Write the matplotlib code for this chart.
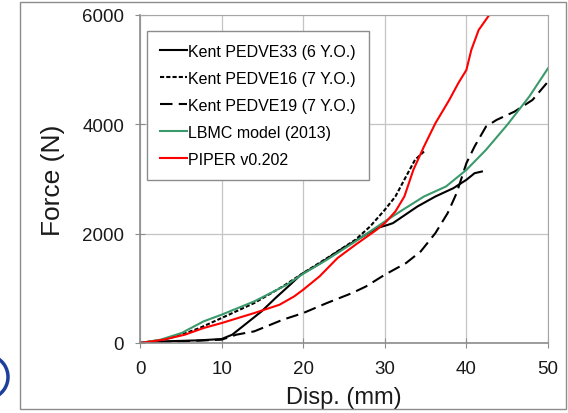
import matplotlib
matplotlib.use("Agg")
import matplotlib.pyplot as plt
from matplotlib.patches import Rectangle, Arc

plt.rcParams["font.family"] = ["Liberation Sans", "DejaVu Sans"]

# Kent PEDVE33 (6 Y.O.)
pedve33_x = [0, 2.9, 7.3, 10, 11.3, 13.1, 14.9, 16.6, 18.4, 19.7, 22, 24.5, 27.3, 29, 30.4, 31,
             32.2, 34, 36.2, 38.4, 40, 41, 41.9]
pedve33_y = [0, 30, 49, 73, 152, 365, 579, 822, 1066, 1249, 1450, 1700, 1949, 2101, 2162, 2193,
             2315, 2497, 2680, 2832, 2985, 3106, 3137]

# Kent PEDVE16 (7 Y.O.)
pedve16_x = [0, 2.9, 5.1, 7.3, 10, 14, 17.5, 20, 23, 26.4, 28.2, 30, 31.3, 32.6, 33.7, 34.8]
pedve16_y = [0, 61, 152, 274, 457, 731, 1035, 1279, 1560, 1888, 2132, 2436, 2680, 3045, 3350, 3502]

# Kent PEDVE19 (7 Y.O.)
pedve19_x = [0, 5.1, 10, 11.8, 14, 17.5, 20, 22.9, 26, 27.7, 30, 32.6, 34.4, 36.2, 37.7, 38.8,
             40, 41, 42.4, 43.7, 45.9, 48.1, 50]
pedve19_y = [0, 30, 61, 152, 213, 426, 548, 731, 914, 1035, 1249, 1462, 1675, 2010, 2375, 2741,
             3289, 3594, 3959, 4081, 4233, 4446, 4781]

# LBMC model (2013)
lbmc_x = [0, 2.5, 5.1, 7.8, 10, 14, 18, 20, 22.9, 26.4, 30, 32.2, 34.8, 37.5, 40, 42.4, 45,
          47.7, 50]
lbmc_y = [0, 60, 183, 396, 518, 761, 1066, 1267, 1523, 1858, 2223, 2436, 2680, 2863, 3167,
          3533, 3990, 4507, 5025]

# PIPER v0.202
piper_x = [0, 2.9, 5.5, 7.8, 10, 14, 17.1, 18.9, 20, 22, 24.2, 26.4, 29, 30, 31.3, 32.4, 33.5,
           34.8, 36.2, 37.9, 39, 40, 40.6, 41.5, 42.8, 43.3]
piper_y = [0, 61, 152, 274, 365, 548, 700, 853, 975, 1218, 1553, 1797, 2071, 2193, 2406, 2680,
           3167, 3594, 4020, 4446, 4751, 4995, 5360, 5725, 6000, 6150]

x_ticks = [0, 10, 20, 30, 40, 50]
y_ticks = [0, 2000, 4000, 6000]

fig = plt.figure(figsize=(5.68, 4.14), dpi=100)
ax = fig.add_axes([140 / 568, 1 - 344 / 414, 408 / 568, 328 / 414])

# slide frame and the stray blue arc on the left edge
fig.patches.append(Rectangle((20 / 568, 4 / 414), 546 / 568, 407 / 414, transform=fig.transFigure,
                             fill=False, edgecolor="#8c8c8c", linewidth=1.0))
fig.patches.append(Arc((-14 / 568, 1 - 378 / 414), 44 / 568, 44 / 414, theta1=-70, theta2=70,
                       transform=fig.transFigure, edgecolor="#1c3f9c", linewidth=2.5))

lw = 1.5
ax.plot(pedve33_x, pedve33_y, color="black", lw=lw, label="Kent PEDVE33 (6 Y.O.)")
ax.plot(pedve16_x, pedve16_y, color="black", lw=lw, dashes=(2, 1), label="Kent PEDVE16 (7 Y.O.)")
ax.plot(pedve19_x, pedve19_y, color="black", lw=lw, dashes=(6, 3), label="Kent PEDVE19 (7 Y.O.)")
ax.plot(lbmc_x, lbmc_y, color="#3b9a6c", lw=lw, label="LBMC model (2013)")
ax.plot(piper_x, piper_y, color="#ff0000", lw=lw, label="PIPER v0.202")

ax.set_xlim(0, 50)
ax.set_ylim(0, 6000)
ax.set_xticks(x_ticks)
ax.set_yticks(y_ticks)
ax.grid(True, color="#c4c4c4", linewidth=0.9)
ax.set_axisbelow(True)
for side in ["top", "right"]:
    ax.spines[side].set_color("#a6a6a6")
for side in ["left", "bottom"]:
    ax.spines[side].set_color("#8c8c8c")
    ax.spines[side].set_linewidth(1.2)
ax.tick_params(direction="inout", length=7, color="#8c8c8c", labelsize=13.5, labelcolor="#1a1a1a")
ax.tick_params(axis="y", pad=8)
ax.tick_params(axis="x", pad=9)

ax.set_xlabel("Disp. (mm)", fontsize=17, labelpad=6, color="#1a1a1a")
ax.set_ylabel("Force (N)", fontsize=19, labelpad=12, color="#1a1a1a")

leg = ax.legend(loc="upper left", bbox_to_anchor=(0.017, 0.951), borderaxespad=0,
                fontsize=11.5, handlelength=1.7, handletextpad=0.1, labelspacing=0.75,
                fancybox=False, framealpha=1, edgecolor="#8c8c8c", borderpad=0.8)
leg.get_frame().set_linewidth(1.0)

fig.savefig("out.png", dpi=100)
